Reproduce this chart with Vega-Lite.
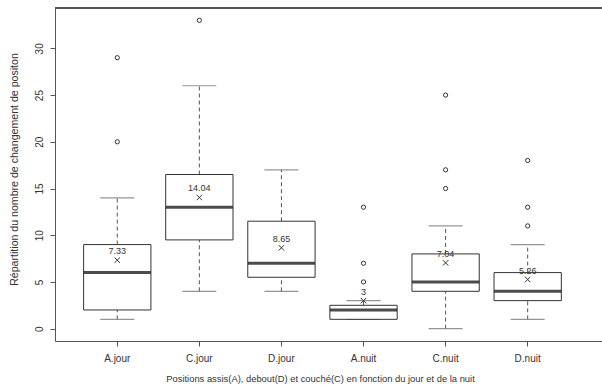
{
  "$schema": "https://vega.github.io/schema/vega-lite/v6.json",
  "width": 547,
  "height": 333,
  "autosize": {"type": "none"},
  "padding": {"left": 55, "top": 8, "right": 0, "bottom": 50},
  "background": "white",
  "config": {
    "view": {"stroke": null},
    "font": "Liberation Sans",
    "axis": {"grid": false, "domainColor": "#555", "tickColor": "#555", "labelColor": "#333", "titleColor": "#333", "labelFont": "Liberation Sans", "titleFont": "Liberation Sans", "titleFontWeight": "normal", "labelFontSize": 10, "titleFontSize": 9.4}
  },
  "datasets": {
    "boxes": [
      {"grp": "A.jour", "lo": 1, "q1": 2, "med": 6, "q3": 9, "hi": 14, "mean": 7.33, "lab": "7.33"},
      {"grp": "C.jour", "lo": 4, "q1": 9.5, "med": 13, "q3": 16.5, "hi": 26, "mean": 14.04, "lab": "14.04"},
      {"grp": "D.jour", "lo": 4, "q1": 5.5, "med": 7, "q3": 11.5, "hi": 17, "mean": 8.65, "lab": "8.65"},
      {"grp": "A.nuit", "lo": 1, "q1": 1, "med": 2, "q3": 2.5, "hi": 3, "mean": 3, "lab": "3"},
      {"grp": "C.nuit", "lo": 0, "q1": 4, "med": 5, "q3": 8, "hi": 11, "mean": 7.04, "lab": "7.04"},
      {"grp": "D.nuit", "lo": 1, "q1": 3, "med": 4, "q3": 6, "hi": 9, "mean": 5.26, "lab": "5.26"}
    ],
    "outliers": [
      {"grp": "A.jour", "v": 20},
      {"grp": "A.jour", "v": 29},
      {"grp": "C.jour", "v": 33},
      {"grp": "A.nuit", "v": 5},
      {"grp": "A.nuit", "v": 7},
      {"grp": "A.nuit", "v": 13},
      {"grp": "C.nuit", "v": 15},
      {"grp": "C.nuit", "v": 17},
      {"grp": "C.nuit", "v": 25},
      {"grp": "D.nuit", "v": 11},
      {"grp": "D.nuit", "v": 13},
      {"grp": "D.nuit", "v": 18}
    ]
  },
  "data": {"name": "boxes"},
  "encoding": {
    "x": {
      "field": "grp", "type": "nominal",
      "sort": ["A.jour", "C.jour", "D.jour", "A.nuit", "C.nuit", "D.nuit"],
      "scale": {"type": "band", "paddingInner": 0.18, "paddingOuter": 0.422, "align": 0.413},
      "axis": {"title": "Positions assis(A), debout(D) et couché(C) en fonction du jour et de la nuit", "labelAngle": 0, "tickSize": 5, "labelPadding": 7, "titlePadding": 11, "titleX": 265, "domain": true}
    }
  },
  "layer": [
    {
      "mark": {"type": "rule", "color": "#555", "strokeWidth": 1},
      "encoding": {"x": null, "y": {"datum": 34.32, "type": "quantitative"}}
    },
    {
      "mark": {"type": "rule", "color": "#555", "strokeDash": [4, 3], "strokeWidth": 1},
      "encoding": {
        "y": {"field": "q3", "type": "quantitative", "scale": {"domain": [-1.32, 34.32], "nice": false, "zero": false},
          "axis": {"title": "Répartition du nombre de changement de positon", "titleFontSize": 10.6, "titleY": 161, "values": [0, 5, 10, 15, 20, 25, 30], "labelAngle": -90, "labelAlign": "center", "labelBaseline": "bottom", "labelPadding": 6, "tickSize": 5, "titlePadding": 15}},
        "y2": {"field": "hi"}
      }
    },
    {
      "mark": {"type": "rule", "color": "#555", "strokeDash": [4, 3], "strokeWidth": 1},
      "encoding": {"y": {"field": "lo", "type": "quantitative"}, "y2": {"field": "q1"}}
    },
    {
      "mark": {"type": "tick", "color": "#666", "size": 34, "thickness": 1.2, "orient": "horizontal"},
      "encoding": {"y": {"field": "hi", "type": "quantitative"}}
    },
    {
      "mark": {"type": "tick", "color": "#666", "size": 34, "thickness": 1.2, "orient": "horizontal"},
      "encoding": {"y": {"field": "lo", "type": "quantitative"}}
    },
    {
      "mark": {"type": "bar", "fill": "white", "stroke": "#333", "strokeWidth": 1},
      "encoding": {"y": {"field": "q1", "type": "quantitative"}, "y2": {"field": "q3"}}
    },
    {
      "mark": {"type": "tick", "color": "black", "size": 67, "thickness": 3, "orient": "horizontal"},
      "encoding": {"y": {"field": "med", "type": "quantitative"}}
    },
    {
      "mark": {"type": "point", "shape": "M-1,-1L1,1M-1,1L1,-1", "filled": false, "stroke": "#333", "strokeWidth": 1, "size": 30, "opacity": 1},
      "encoding": {"y": {"field": "mean", "type": "quantitative"}}
    },
    {
      "mark": {"type": "text", "fontSize": 9, "color": "#333", "dy": -9, "baseline": "middle"},
      "encoding": {"y": {"field": "mean", "type": "quantitative"}, "text": {"field": "lab"}}
    },
    {
      "data": {"name": "outliers"},
      "mark": {"type": "point", "shape": "circle", "filled": false, "stroke": "#333", "strokeWidth": 1, "size": 18, "opacity": 1},
      "encoding": {"y": {"field": "v", "type": "quantitative"}}
    }
  ]
}
